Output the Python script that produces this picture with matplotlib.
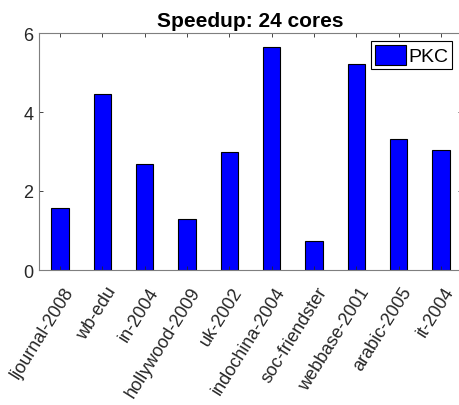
import numpy as np
import matplotlib
matplotlib.use('Agg')
import matplotlib.pyplot as plt
import matplotlib.transforms as mtransforms

plt.rcParams['font.family'] = ['Liberation Sans', 'DejaVu Sans']

''' data read off the reference '''
graphs = ['ljournal-2008', 'wb-edu', 'in-2004', 'hollywood-2009', 'uk-2002',
          'indochina-2004', 'soc-friendster', 'webbase-2001', 'arabic-2005', 'it-2004']
speedup = [1.58, 4.46, 2.68, 1.29, 3.0, 5.65, 0.74, 5.21, 3.32, 3.04]
yticks = [0, 2, 4, 6]

W, H = 459, 406
fig = plt.figure(figsize=(W / 100, H / 100), dpi=100)
ax = fig.add_axes([39 / W, (H - 271) / H, (462 - 39) / W, (271 - 34) / H])

x = np.arange(1, len(graphs) + 1)
ax.bar(x, speedup, width=0.41, color='#0000ff', edgecolor='black', linewidth=0.8, label='PKC')

axc = '#262626'
ax.set_xlim(0.5, len(graphs) + 0.5)
ax.set_ylim(0, 6)
ax.set_yticks(yticks)
ax.set_xticks(x)
ax.set_xticklabels(graphs, rotation=58, ha='right', va='center', rotation_mode='anchor')
ax.tick_params(direction='in', top=True, right=True, length=3, width=0.6,
               colors=axc, labelsize=13, pad=4)
ax.tick_params(axis='x', pad=0)
# shift rotated labels like matlab does
off = mtransforms.ScaledTranslation(7 / 72, -13 / 72, fig.dpi_scale_trans)
for lab in ax.get_xticklabels():
    lab.set_transform(lab.get_transform() + off)
for s in ax.spines.values():
    s.set_color('#7f7f7f')
    s.set_linewidth(0.8)
ax.spines['right'].set_visible(False)

ax.set_title('Speedup: 24 cores', fontsize=15, fontweight='bold', pad=5)

leg = ax.legend(loc='upper right', bbox_to_anchor=(452 / W, (H - 42) / H),
                bbox_transform=fig.transFigure, fontsize=14, fancybox=False,
                framealpha=1, edgecolor='black', borderpad=0.2, borderaxespad=0,
                handlelength=1.6, handleheight=1.2, handletextpad=0.1)
leg.get_frame().set_linewidth(0.8)

fig.savefig('out.png', dpi=100)
